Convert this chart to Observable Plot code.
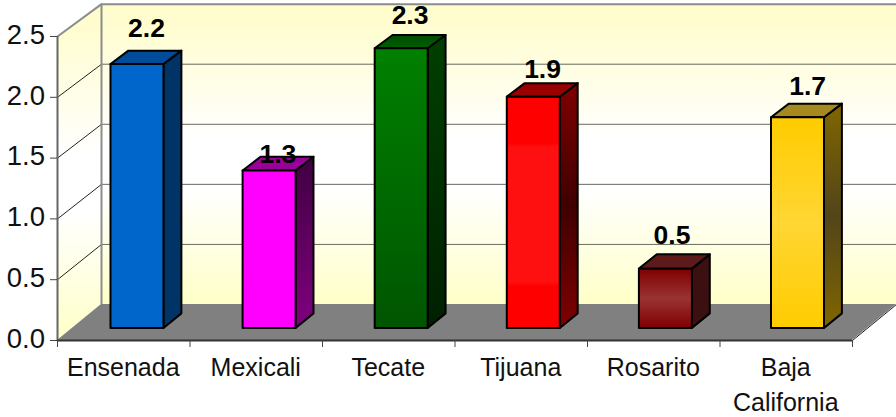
<!DOCTYPE html>
<html>
<head>
<meta charset="utf-8">
<style>html,body{margin:0;padding:0;background:#fff}svg{display:block}</style>
<script src="https://cdn.jsdelivr.net/npm/d3@7"></script>
<script src="https://cdn.jsdelivr.net/npm/@observablehq/plot@0.6"></script>
</head>
<body>
<div id="chart"></div>
<script>
const categories = ["Ensenada", "Mexicali", "Tecate", "Tijuana", "Rosarito", "Baja\nCalifornia"];
const values = [2.18, 1.30, 2.31, 1.91, 0.49, 1.74];
const labelFormat = d3.format(".1f");
const yTicks = [0, 0.5, 1, 1.5, 2, 2.5];
const xTicks = [0, 1, 2, 3, 4, 5, 6];

// stops: [offset, colour]
const frontColors = [
  [[0, "#0066cc"], [1, "#0066cc"]],
  [[0, "#ff00ff"], [1, "#ff00ff"]],
  [[0, "#008000"], [1, "#005500"]],
  [[0, "#ff0000"], [.2, "#ff0000"], [.22, "#ff1010"], [.8, "#ff1010"], [.82, "#ff0000"], [1, "#ff0000"]],
  [[0, "#800000"], [.5, "#993333"], [1, "#800000"]],
  [[0, "#ffcc00"], [.5, "#ffd633"], [1, "#ffcc00"]]
];
const sideColors = [
  [[0, "#003366"], [1, "#003366"]],
  [[0, "#400040"], [1, "#800080"]],
  [[0, "#004000"], [1, "#002000"]],
  [[0, "#800000"], [.5, "#400000"], [1, "#800000"]],
  [[0, "#3c1010"], [1, "#3c1010"]],
  [[0, "#806600"], [.5, "#524519"], [1, "#806600"]]
];
const topColors = [
  [[0, "#004c99"], [1, "#004c99"]],
  [[0, "#990099"], [1, "#990099"]],
  [[0, "#004c00"], [1, "#006000"]],
  [[0, "#990000"], [1, "#990000"]],
  [[0, "#5c1a1a"], [1, "#5c1a1a"]],
  [[0, "#a68a1f"], [1, "#a68a1f"]]
];
const labelLift = [0.225, 0.07, 0.205, 0.155, 0.205, 0.19];
const labelShift = [-0.067, -0.073, -0.072, -0.069, -0.089, -0.062];

// Oblique 3D projection, in data units. z runs 0 (front edge) to 1 (back wall).
const dxDepth = 44 / 132.5, dyDepth = 36 / 121.6, shrink = 0.012;
const X = (c, z) => c + z * dxDepth;
const Y = (v, z) => v * (1 - shrink * z) + z * dyDepth;
const zFront = 1 / 3, zBack = 0.74, barHalf = 0.2;
const yTop = 2.5, xEnd = 6;
const barCenter = i => i * 0.997 + 0.493;

const wallBack = [
  {x: X(0, 1), y1: Y(0, 1), y2: Y(yTop, 1)},
  {x: X(xEnd, 1) + 0.02, y1: Y(0, 1), y2: Y(yTop, 1)}
];
const wallLeft = [
  {x: X(0, 0), y1: Y(0, 0), y2: Y(yTop, 0)},
  {x: X(0, 1), y1: Y(0, 1), y2: Y(yTop, 1)}
];
const floor = [
  {x: X(0, 0), y1: Y(0, 0), y2: Y(0, 0)},
  {x: X(0, 1), y1: Y(0, 0), y2: Y(0, 1)},
  {x: X(xEnd, 0), y1: Y(0, 0), y2: Y(0, 1)},
  {x: X(xEnd, 1), y1: Y(0, 1), y2: Y(0, 1)}
];

const barMarks = values.flatMap((v, i) => {
  const c0 = barCenter(i) - barHalf, c1 = barCenter(i) + barHalf;
  const xa = X(c0, zFront), xb = X(c1, zFront), xc = X(c0, zBack), xd = X(c1, zBack);
  const b0 = Y(0, zFront), b1 = Y(0, zBack), t0 = Y(v, zFront), t1 = Y(v, zBack);
  const edge = {stroke: "#000", strokeWidth: 2, strokeLinejoin: "round", curve: "linear"};
  return [
    Plot.areaY([{x: xb, y1: b0, y2: t0}, {x: xd, y1: b1, y2: t1}],
      {x: "x", y1: "y1", y2: "y2", fill: `url(#side${i})`, ...edge}),
    Plot.areaY([{x: xa, y1: t0, y2: t0}, {x: xc, y1: t0, y2: t1}, {x: xb, y1: t0, y2: t1}, {x: xd, y1: t1, y2: t1}],
      {x: "x", y1: "y1", y2: "y2", fill: `url(#top${i})`, ...edge}),
    Plot.areaY([{x: xa, y1: b0, y2: t0}, {x: xb, y1: b0, y2: t0}],
      {x: "x", y1: "y1", y2: "y2", fill: `url(#front${i})`, ...edge})
  ];
});

const gridBack = yTicks.filter(t => t > 0 && t < yTop);
const plot = Plot.plot({
  width: 896,
  height: 417,
  marginLeft: 57,
  marginRight: 44,
  marginTop: 36,
  marginBottom: 77,
  style: {fontFamily: "'Liberation Sans', Arial, sans-serif", background: "#fff", color: "#000"},
  x: {type: "linear", domain: [0, 6]},
  y: {type: "linear", domain: [0, 2.5]},
  marks: [
    Plot.areaY(wallBack, {x: "x", y1: "y1", y2: "y2", fill: "url(#wall)", curve: "linear"}),
    Plot.areaY(wallLeft, {x: "x", y1: "y1", y2: "y2", fill: "url(#wallL)", curve: "linear"}),
    // back-wall gridlines
    Plot.ruleY(gridBack, {
      y: t => Y(t, 1), x1: X(0, 1), x2: X(xEnd, 1) + 0.02,
      stroke: "#6a6a60", strokeWidth: 1
    }),
    // left-wall gridlines
    ...gridBack.map(t => Plot.line([{x: X(0, 0), y: Y(t, 0)}, {x: X(0, 1), y: Y(t, 1)}],
      {x: "x", y: "y", stroke: "#222", strokeWidth: 1})),
    // wall frame
    Plot.line([{x: X(0, 0), y: Y(yTop, 0)}, {x: X(0, 1), y: Y(yTop, 1)}, {x: X(xEnd, 1) + 0.02, y: Y(yTop, 1)}],
      {x: "x", y: "y", stroke: "#8c8c8c", strokeWidth: 2}),
    Plot.ruleX([X(0, 1)], {y1: Y(0, 1), y2: Y(yTop, 1), stroke: "#8c8c8c", strokeWidth: 2}),
    // floor
    Plot.areaY(floor, {x: "x", y1: "y1", y2: "y2", fill: "#808080", curve: "linear"}),
    Plot.line([{x: X(xEnd, 0), y: Y(0, 0)}, {x: X(xEnd, 1), y: Y(0, 1)}],
      {x: "x", y: "y", stroke: "#222", strokeWidth: 1}),
    ...barMarks,
    // axes
    Plot.ruleX([0], {y1: 0, y2: yTop, stroke: "#666", strokeWidth: 2}),
    Plot.ruleY([0], {x1: 0, x2: xEnd, stroke: "#333", strokeWidth: 2}),
    Plot.axisY({ticks: yTicks, tickFormat: () => "", tickSize: 7, anchor: "left", stroke: "#444", label: null}),
    Plot.text(yTicks, {
      x: 0, y: d => d, text: d => labelFormat(d), fontSize: 27.5, fill: "#111",
      textAnchor: "end", dx: -12.5, dy: -1.5
    }),
    Plot.axisX({ticks: xTicks, tickFormat: () => "", tickSize: 7, anchor: "bottom", stroke: "#444", label: null}),
    // category labels
    Plot.text(categories, {
      x: (d, i) => i + 0.5, y: 0, text: d => d, fontSize: 25, fill: "#111",
      lineAnchor: "top", lineHeight: 1.4, dy: 11, dx: -0.5, textAnchor: "middle"
    }),
    // value labels
    Plot.text(values, {
      x: (d, i) => X(barCenter(i) + labelShift[i], zBack), y: (d, i) => Y(d, zFront) + labelLift[i],
      text: d => labelFormat(d), fontSize: 26.5, fontWeight: "bold", fill: "#000",
      lineAnchor: "bottom", textAnchor: "middle"
    })
  ]
});

// gradients referenced by the marks' fills
const defs = d3.select(plot).insert("defs", ":first-child");
function gradient(id, stops) {
  const g = defs.append("linearGradient").attr("id", id).attr("x1", 0).attr("y1", 0).attr("x2", 0).attr("y2", 1);
  stops.forEach(([o, c]) => g.append("stop").attr("offset", o).attr("stop-color", c));
}
const wallStops = [[0, "#fffccc"], [0.08, "#fffdd0"], [0.45, "#ffffff"], [0.62, "#ffffff"], [1, "#ffffc8"]];
gradient("wall", wallStops);
gradient("wallL", wallStops);
values.forEach((v, i) => {
  gradient(`front${i}`, frontColors[i]);
  gradient(`side${i}`, sideColors[i]);
  gradient(`top${i}`, topColors[i]);
});
document.getElementById("chart").appendChild(plot);
</script>
</body>
</html>
